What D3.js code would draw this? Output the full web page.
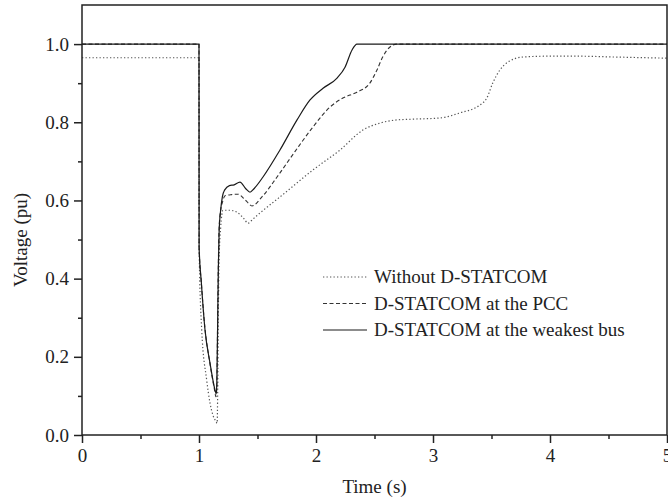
<!DOCTYPE html>
<html>
<head>
<meta charset="utf-8">
<script src="https://cdn.jsdelivr.net/npm/d3@7"></script>
<style>
  body { margin: 0; background: #fff; }
  text { font-family: "Liberation Serif", "Times New Roman", serif; fill: #222; }
</style>
</head>
<body>
<div class="plot"></div>
<script>
// values: time (s) and voltage (pu)
const timeWithout = [0, 1.0, 1.001, 1.023, 1.066, 1.094, 1.12, 1.145, 1.155, 1.16, 1.165, 1.172, 1.185, 1.205, 1.26, 1.325, 1.38, 1.419, 1.46, 1.521, 1.692, 1.974, 2.205, 2.40, 2.547, 2.69, 2.83, 3.06, 3.23, 3.40, 3.46, 3.51, 3.57, 3.64, 3.77, 3.97, 4.26, 4.54, 5]
const voltWithout = [0.965, 0.965, 0.48, 0.27, 0.14, 0.082, 0.05, 0.035, 0.03, 0.12, 0.3, 0.45, 0.53, 0.575, 0.575, 0.57, 0.555, 0.542, 0.552, 0.568, 0.609, 0.678, 0.729, 0.78, 0.798, 0.806, 0.808, 0.811, 0.824, 0.844, 0.862, 0.90, 0.933, 0.954, 0.967, 0.969, 0.969, 0.967, 0.964]

const timePcc = [0, 1.0, 1.001, 1.02, 1.05, 1.09, 1.13, 1.145, 1.152, 1.158, 1.165, 1.172, 1.185, 1.2, 1.222, 1.28, 1.333, 1.4, 1.453, 1.538, 1.667, 1.82, 1.974, 2.12, 2.23, 2.35, 2.46, 2.52, 2.57, 2.63, 2.69, 2.75, 5]
const voltPcc = [1, 1, 0.48, 0.39, 0.275, 0.19, 0.12, 0.098, 0.12, 0.26, 0.43, 0.53, 0.575, 0.595, 0.612, 0.615, 0.616, 0.60, 0.586, 0.609, 0.66, 0.725, 0.788, 0.839, 0.862, 0.877, 0.90, 0.933, 0.967, 0.992, 1.0, 1.0, 1.0]

const timeWeakest = [0, 1.0, 1.001, 1.02, 1.051, 1.094, 1.137, 1.147, 1.152, 1.158, 1.165, 1.172, 1.185, 1.2, 1.22, 1.26, 1.3, 1.35, 1.40, 1.436, 1.47, 1.547, 1.692, 1.838, 1.949, 2.06, 2.18, 2.248, 2.308, 2.35, 2.4, 5]
const voltWeakest = [1, 1, 0.48, 0.39, 0.27, 0.184, 0.115, 0.105, 0.13, 0.25, 0.42, 0.52, 0.575, 0.61, 0.627, 0.638, 0.64, 0.647, 0.63, 0.621, 0.63, 0.66, 0.729, 0.806, 0.857, 0.887, 0.913, 0.941, 0.985, 1.0, 1.0, 1.0]

const seriesNames = ["Without D-STATCOM", "D-STATCOM at the PCC", "D-STATCOM at the weakest bus"]
const xTicks = [0, 1, 2, 3, 4, 5]
const yTicks = [0, 0.2, 0.4, 0.6, 0.8, 1.0]

const width = 668
const height = 500
const margin = {top: 5, right: 1, bottom: 65, left: 82}

const svg = d3.select('.plot')
    .append('svg')
    .attr('width', width)
    .attr('height', height)

const x = d3.scaleLinear().domain([0, 5]).range([margin.left, width - margin.right])
const y = d3.scaleLinear().domain([0, 1.1]).range([height - margin.bottom, margin.top])

const toPoints = (ts, vs) => ts.map((t, i) => ({t: t, v: vs[i]}))

const series = [
    {name: seriesNames[0], points: toPoints(timeWithout, voltWithout), dash: '1.3,2.2', color: '#555', w: 1.2},
    {name: seriesNames[1], points: toPoints(timePcc, voltPcc), dash: '4,2.5', color: '#333', w: 1.1},
    {name: seriesNames[2], points: toPoints(timeWeakest, voltWeakest), dash: null, color: '#1a1a1a', w: 1.2},
]

const line = d3.line()
    .x(d => x(d.t))
    .y(d => y(d.v))
    .curve(d3.curveMonotoneX)

// curves
svg.selectAll('path.series')
    .data(series)
    .enter()
    .append('path')
    .attr('class', 'series')
    .attr('fill', 'none')
    .attr('stroke', d => d.color)
    .attr('stroke-width', d => d.w)
    .attr('stroke-dasharray', d => d.dash)
    .attr('d', d => line(d.points))

// frame
svg.append('rect')
    .attr('x', x(0))
    .attr('y', y(1.1))
    .attr('width', x(5) - x(0))
    .attr('height', y(0) - y(1.1))
    .attr('fill', 'none')
    .attr('stroke', '#222')
    .attr('stroke-width', 1.5)

// minor ticks
svg.append('g')
    .attr('transform', `translate(0,${y(0)})`)
    .call(d3.axisBottom(x).tickValues([0.5, 1.5, 2.5, 3.5, 4.5]).tickSize(4).tickFormat(''))
svg.append('g')
    .attr('transform', `translate(${x(0)},0)`)
    .call(d3.axisLeft(y).tickValues([0.1, 0.3, 0.5, 0.7, 0.9]).tickSize(4).tickFormat(''))

// major ticks
svg.append('g')
    .attr('class', 'xaxis')
    .attr('transform', `translate(0,${y(0)})`)
    .call(d3.axisBottom(x).tickValues(xTicks).tickSize(8).tickPadding(6).tickFormat(d3.format('d')))
svg.append('g')
    .attr('class', 'yaxis')
    .attr('transform', `translate(${x(0)},0)`)
    .call(d3.axisLeft(y).tickValues(yTicks).tickSize(8).tickPadding(5).tickFormat(d3.format('.1f')))

svg.selectAll('.domain').remove()
svg.selectAll('.tick line').attr('stroke', '#222').attr('stroke-width', 1.5)
svg.selectAll('.tick text').attr('font-size', 19).attr('font-family', '"Liberation Serif", serif').attr('fill', '#222')

// axis titles
svg.append('text')
    .attr('x', (x(0) + x(5)) / 2)
    .attr('y', 493)
    .attr('text-anchor', 'middle')
    .attr('font-size', 19)
    .text('Time (s)')

svg.append('text')
    .attr('transform', `translate(27,${(y(0) + y(1.1)) / 2 + 20}) rotate(-90)`)
    .attr('text-anchor', 'middle')
    .attr('font-size', 19)
    .text('Voltage (pu)')

// legend
const legend = svg.selectAll('g.legend')
    .data(series)
    .enter()
    .append('g')
    .attr('class', 'legend')
    .attr('transform', (d, i) => `translate(323,${277 + i * 26.5})`)

legend.append('line')
    .attr('x1', 0)
    .attr('x2', 44)
    .attr('stroke', d => d.color)
    .attr('stroke-width', d => d.w)
    .attr('stroke-dasharray', d => d.dash)

legend.append('text')
    .attr('x', 51)
    .attr('dy', 6)
    .attr('font-size', 19)
    .text(d => d.name)
</script>
</body>
</html>
